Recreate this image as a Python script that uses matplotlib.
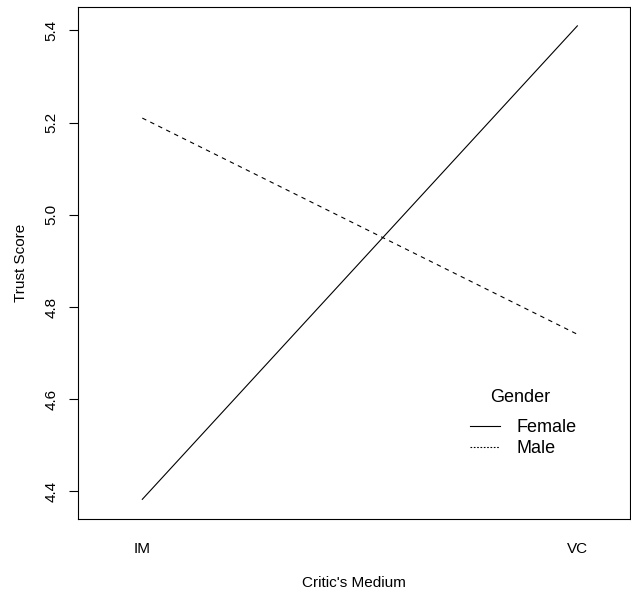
import matplotlib
matplotlib.use('Agg')
import matplotlib.pyplot as plt

plt.rcParams['font.family'] = ['Liberation Sans', 'DejaVu Sans']

# data
medium = ['IM', 'VC']
female = [4.383, 5.410]
male = [5.210, 4.741]
yticks = [4.4, 4.6, 4.8, 5.0, 5.2, 5.4]

x = [1, 2]

W, H = 631, 592
fig = plt.figure(figsize=(W / 100, H / 100), dpi=100)
ax = fig.add_axes([77.7 / W, 1 - 518.7 / H, (630 - 77.7) / W, (518.7 - 6.5) / H])

ax.plot(x, female, color='black', lw=0.8, linestyle='-', label='Female')
ax.plot(x, male, color='black', lw=0.8, linestyle=(0, (4, 4)), label='Male')

ax.set_xlim(0.8515, 2.121)
ax.set_ylim(4.341, 5.452)

ax.set_yticks(yticks)
ax.set_yticklabels([f'{v:.1f}' for v in yticks], rotation=90, va='center')
ax.tick_params(axis='y', length=6.7, width=0.8, pad=7, labelsize=11)
ax.set_xticks(x)
ax.set_xticklabels(medium)
ax.tick_params(axis='x', length=0, pad=17, labelsize=11)

for s in ax.spines.values():
    s.set_linewidth(0.8)

ax.set_xlabel("Critic's Medium", fontsize=11, labelpad=14)
ax.set_ylabel('Trust Score', fontsize=11, labelpad=12)

# legend: title as separate text, entries below
fig.text(520 / W, 1 - 397 / H, 'Gender', fontsize=13, ha='center', va='center')
leg = ax.legend(loc='upper left', frameon=False,
                bbox_to_anchor=(470 / W, 1 - 419 / H),
                bbox_transform=fig.transFigure,
                fontsize=13, handlelength=1.66,
                handletextpad=0.9, labelspacing=0.22, borderpad=0,
                borderaxespad=0)
leg.get_lines()[1].set_linestyle((0, (1.5, 1.5)))

fig.savefig('out.png', dpi=100)
